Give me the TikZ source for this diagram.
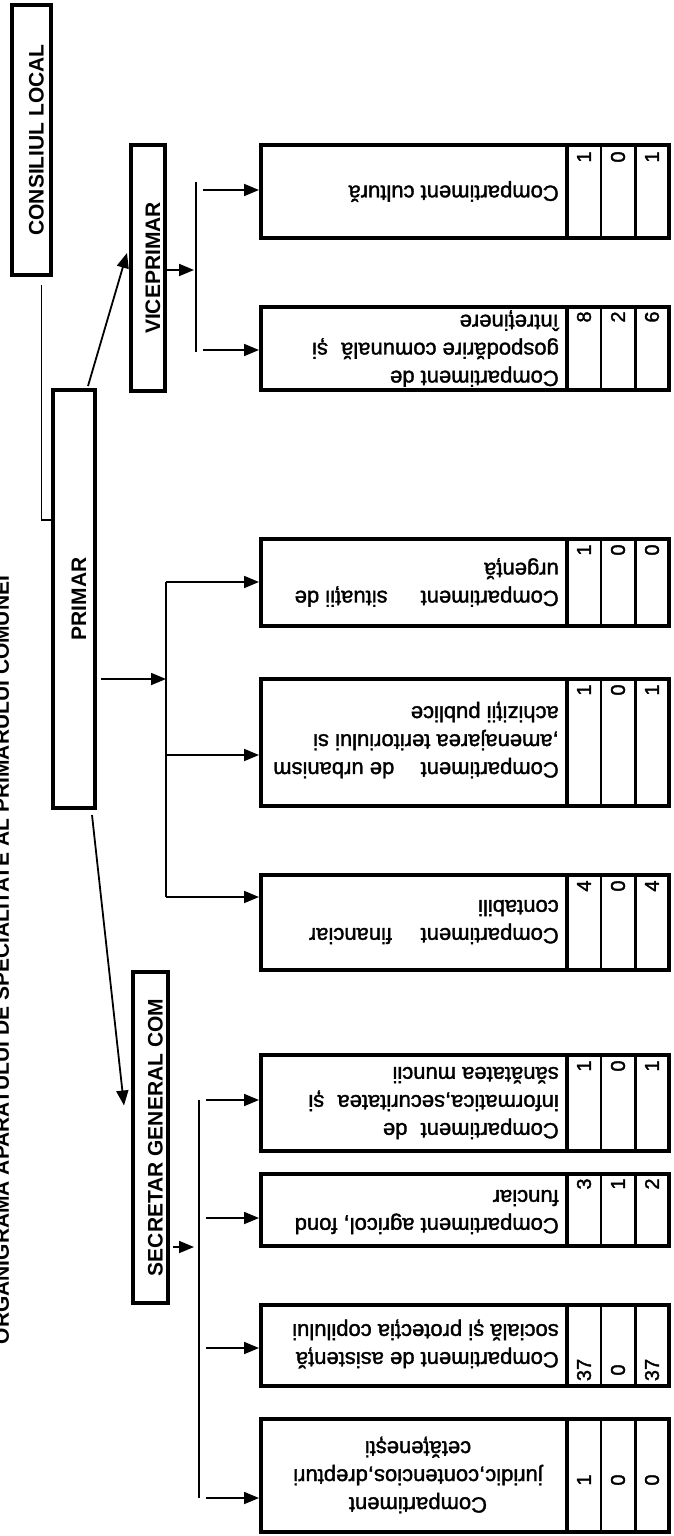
\documentclass[tikz,border=0pt]{standalone}
\usepackage{fontspec}
\setmainfont{Liberation Sans}
\newfontfamily\scanfont[FakeBold=1.6]{Liberation Sans}
\usetikzlibrary{arrows.meta,calc}
\newcommand\cbox[3]{%
  \node[cbx, minimum height={#3-#2}] (#1) at (465,{(#2+#3)/2}) {};
  \draw[divA] (567,#2) -- (567,#3);
  \draw[divB] (601,#2) -- (601,#3);
  \draw[divC] (635,#2) -- (635,#3);
}
\newcommand\nums[5]{%
  \node[num] (#1a) at (584,#2) {#3};
  \node[num] (#1b) at (618,#2) {#4};
  \node[num] (#1c) at (652,#2) {#5};
}
\begin{document}
\begin{tikzpicture}[x=1pt,y=-1pt,
  hdr/.style={draw, line width=4pt, rotate=90, inner sep=0pt,
    font=\fontsize{21}{25}\selectfont\bfseries, text height=24pt, text depth=0pt},
  cbx/.style={draw, line width=4pt, minimum width=408pt, inner sep=0pt},
  divA/.style={line width=3.5pt},
  divB/.style={line width=1.5pt},
  divC/.style={line width=3pt},
  ctext/.style={rotate=180, inner sep=0pt, align=left,
    font=\scanfont\fontsize{22}{28}\selectfont},
  num/.style={rotate=90, inner sep=0pt, font=\scanfont\fontsize{20}{24}\selectfont},
  ttl/.style={rotate=90, inner sep=0pt, anchor=base,
    font=\fontsize{21}{25}\selectfont\bfseries},
  conn/.style={line width=1.8pt},
  arr/.style={conn, -{Triangle[length=15pt,width=12pt]}}]
\useasboundingbox (0,0) rectangle (673,1536);
\fill[white] (0,0) rectangle (673,1536);

% title (cut off at the left edge)
\node[ttl] (title) at (9,960) {ORGANIGRAMA APARATULUI DE SPECIALITATE AL PRIMARULUI COMUNEI};

% header boxes
\node[hdr, minimum width=270pt, minimum height=39pt] (cl) at (31.5,140) {CONSILIUL LOCAL};
\node[hdr, minimum width=418pt, minimum height=42pt] (P) at (74,599) {PRIMAR};
\node[hdr, minimum width=246pt, minimum height=34pt] (V) at (148,268) {VICEPRIMAR};
\node[hdr, minimum width=331pt, minimum height=35pt] (S) at (150.5,1137.5) {SECRETAR GENERAL COM};

% compartment boxes
\cbox{c1}{145}{238}
\cbox{c2}{307}{390}
\cbox{c3}{539}{626}
\cbox{c4}{679}{806}
\cbox{c5}{875}{970}
\cbox{c6}{1055}{1151}
\cbox{c7}{1174}{1246}
\cbox{c8}{1305}{1386}
\cbox{c9}{1419}{1532}

% compartment texts
\node[ctext, anchor=west] (t1) at (559,191.5) {Compartiment cultură};
\node[ctext, anchor=west] (t2) at (559,348.5) {Compartiment de\\gospodărire comunală\hspace{0.6em}și\\întreținere};
\node[ctext, anchor=west] (t3) at (559,582.5) {Compartiment\hspace{1.5em}situații de\\urgență};
\node[ctext, anchor=west] (t4) at (559,740) {Compartiment\hspace{1.2em}de urbanism\\,amenajarea teritoriului si\\achiziții publice};
\node[ctext, anchor=west] (t5) at (559,922) {Compartiment\hspace{1.3em}financiar\\contabili};
\node[ctext, anchor=west] (t6) at (559,1103) {Compartiment\hspace{0.6em}de\\informatica,securitatea\hspace{0.6em}și\\sănătatea muncii};
\node[ctext, anchor=west] (t7) at (559,1212) {Compartiment agricol, fond\\funciar};
\node[ctext, anchor=west] (t8) at (559,1344) {Compartiment de asistență\\socială și protecția copilului};
\node[ctext, align=center] (t9) at (418,1475) {Compartiment\\juridic,contencios,drepturi\\cetățenești};

% numbers
\nums{n1}{157}{1}{0}{1}
\nums{n2}{317}{8}{2}{6}
\nums{n3}{550}{1}{0}{0}
\nums{n4}{690}{1}{0}{1}
\nums{n5}{886}{4}{0}{4}
\nums{n6}{1066}{1}{0}{1}
\nums{n7}{1184}{3}{1}{2}
\nums{n8}{1370}{37}{0}{37}
\nums{n9}{1480}{1}{0}{0}

% bus coordinates
\coordinate (b3t) at (196,182);
\coordinate (b3b) at (196,352);
\coordinate (b1t) at (166,582);
\coordinate (b1b) at (166,897);
\coordinate (b2t) at (199,1100);
\coordinate (b2b) at (199,1498);

% CONSILIUL LOCAL -- PRIMAR
\draw[conn] ($(cl.west)+(10,8)$) |- (P.north |- 0,520);

% PRIMAR -> VICEPRIMAR
\draw[arr] ($(P.east)+(14,-2)$) -- ($(V.north)+(-2,-15)$);
% VICEPRIMAR -> bus
\draw[arr] (V.south |- 0,270) -- ($(b3t |- 0,270)+(-2,0)$);
\draw[conn] (b3t) -- (b3b);
\draw[arr, shorten <=7pt] (b3t |- 0,190) -- (c1.west |- 0,190);
\draw[arr, shorten <=7pt] (b3b |- 0,350) -- (c2.west |- 0,350);

% PRIMAR -> bus
\draw[arr] ($(P.south |- 0,679)+(4,0)$) -- (b1t |- 0,679);
\draw[conn] (b1t) -- (b1b);
\draw[arr] (b1t) -- (c3.west |- b1t);
\draw[arr] (b1t |- 0,755) -- (c4.west |- 0,755);
\draw[arr] (b1b) -- (c5.west |- b1b);

% PRIMAR -> SECRETAR
\draw[arr] ($(P.west)+(18,5)$) -- ($(S.north)+(-7,-32)$);
% SECRETAR -> bus
\draw[arr] ($(S.south |- 0,1247)+(3,0)$) -- ($(b2t |- 0,1247)+(-5,0)$);
\draw[conn] (b2t) -- (b2b);
\draw[arr, shorten <=7pt] (b2t) -- (c6.west |- b2t);
\draw[arr, shorten <=7pt] (b2t |- 0,1218) -- (c7.west |- 0,1218);
\draw[arr, shorten <=7pt] (b2t |- 0,1348) -- (c8.west |- 0,1348);
\draw[arr, shorten <=7pt] (b2b) -- (c9.west |- b2b);
\end{tikzpicture}
\end{document}
